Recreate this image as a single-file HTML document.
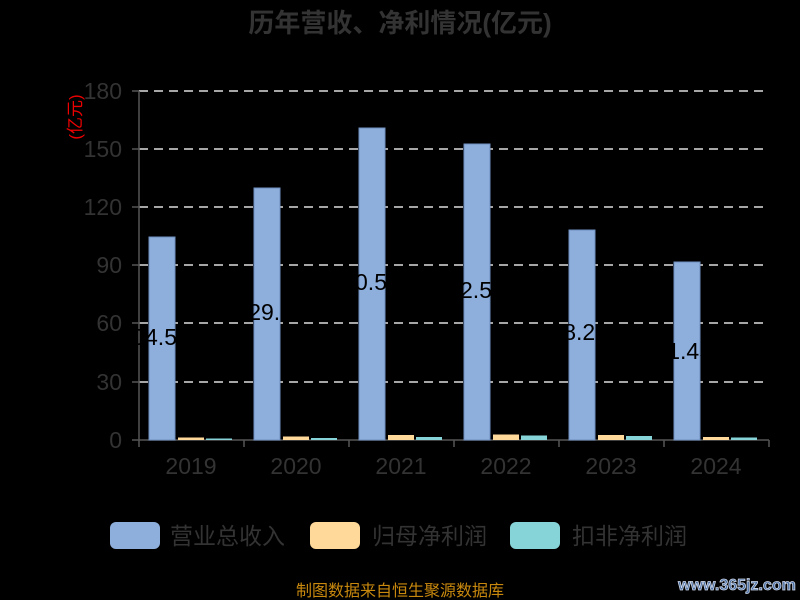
<!DOCTYPE html>
<html><head><meta charset="utf-8"><style>
html,body{margin:0;padding:0;background:#000;}
svg{display:block;}
</style></head><body>
<svg width="800" height="600" xmlns="http://www.w3.org/2000/svg" font-family="'Liberation Sans','Noto Sans CJK SC',sans-serif">
<rect width="800" height="600" fill="#000"/>
<text x="400" y="32" text-anchor="middle" font-size="26" font-weight="bold" fill="#333">历年营收、净利情况(亿元)</text>
<g stroke="#ddd" stroke-width="1.5" stroke-dasharray="9,6">
<line x1="139" y1="91" x2="769" y2="91"/>
<line x1="139" y1="149" x2="769" y2="149"/>
<line x1="139" y1="207" x2="769" y2="207"/>
<line x1="139" y1="265" x2="769" y2="265"/>
<line x1="139" y1="323" x2="769" y2="323"/>
<line x1="139" y1="382" x2="769" y2="382"/>
</g>
<g fill="#333" font-size="23" text-anchor="end">
<text x="122" y="99">180</text><text x="122" y="157">150</text><text x="122" y="215">120</text>
<text x="122" y="273">90</text><text x="122" y="331">60</text><text x="122" y="390">30</text><text x="122" y="448">0</text>
</g>
<text transform="translate(81,117) rotate(-90)" text-anchor="middle" font-size="17" fill="#e00">(亿元)</text>
<g stroke="#555" stroke-width="1.5">
<line x1="139" y1="91" x2="139" y2="440"/>
<line x1="132" y1="91" x2="139" y2="91"/><line x1="132" y1="149" x2="139" y2="149"/><line x1="132" y1="207" x2="139" y2="207"/><line x1="132" y1="265" x2="139" y2="265"/><line x1="132" y1="323" x2="139" y2="323"/><line x1="132" y1="382" x2="139" y2="382"/><line x1="132" y1="440" x2="139" y2="440"/>
<line x1="139" y1="440" x2="769" y2="440"/>
<line x1="139" y1="440" x2="139" y2="447"/><line x1="244" y1="440" x2="244" y2="447"/><line x1="349" y1="440" x2="349" y2="447"/><line x1="454" y1="440" x2="454" y2="447"/><line x1="559" y1="440" x2="559" y2="447"/><line x1="664" y1="440" x2="664" y2="447"/><line x1="769" y1="440" x2="769" y2="447"/>
</g>
<g fill="#8eaedb" stroke="#6f8fbf" stroke-width="1">
<rect x="149" y="237" width="26" height="203"/>
<rect x="254" y="188" width="26" height="252"/>
<rect x="359" y="128" width="26" height="312"/>
<rect x="464" y="144" width="26" height="296"/>
<rect x="569" y="230" width="26" height="210"/>
<rect x="674" y="262" width="26" height="178"/>
</g>
<g fill="#ffd99a">
<rect x="178" y="437.5" width="26" height="2.5"/>
<rect x="283" y="436.5" width="26" height="3.5"/>
<rect x="388" y="435" width="26" height="5"/>
<rect x="493" y="434.5" width="26" height="5.5"/>
<rect x="598" y="435" width="26" height="5"/>
<rect x="703" y="437" width="26" height="3"/>
</g>
<g fill="#86d4d8">
<rect x="206" y="438.5" width="26" height="1.5"/>
<rect x="311" y="438" width="26" height="2"/>
<rect x="416" y="437" width="26" height="3"/>
<rect x="521" y="435.5" width="26" height="4.5"/>
<rect x="626" y="436" width="26" height="4"/>
<rect x="731" y="437.5" width="26" height="2.5"/>
</g>
<g fill="#000" font-size="23" text-anchor="end">
<text x="177" y="345">104.5</text><text x="293" y="320">129.0</text><text x="387" y="290">160.5</text>
<text x="492" y="298">152.5</text><text x="608" y="340">108.27</text><text x="712" y="359">91.45</text>
</g>
<g fill="#333" font-size="23" text-anchor="middle">
<text x="191" y="474">2019</text><text x="296" y="474">2020</text><text x="401" y="474">2021</text>
<text x="506" y="474">2022</text><text x="611" y="474">2023</text><text x="716" y="474">2024</text>
</g>
<rect x="110" y="522" width="50" height="27" rx="6" fill="#8eaedb"/>
<text x="170" y="544" font-size="23" fill="#333">营业总收入</text>
<rect x="310" y="522" width="50" height="27" rx="6" fill="#ffd99a"/>
<text x="372" y="544" font-size="23" fill="#333">归母净利润</text>
<rect x="510" y="522" width="50" height="27" rx="6" fill="#86d4d8"/>
<text x="572" y="544" font-size="23" fill="#333">扣非净利润</text>
<text x="400" y="596" text-anchor="middle" font-size="16" fill="#c8880e">制图数据来自恒生聚源数据库</text>
<text x="737" y="590" text-anchor="middle" font-size="16" font-weight="bold" fill="#4a6fa5" stroke="#cfd8e8" stroke-width="0.8">www.365jz.com</text>
</svg>
</body></html>
